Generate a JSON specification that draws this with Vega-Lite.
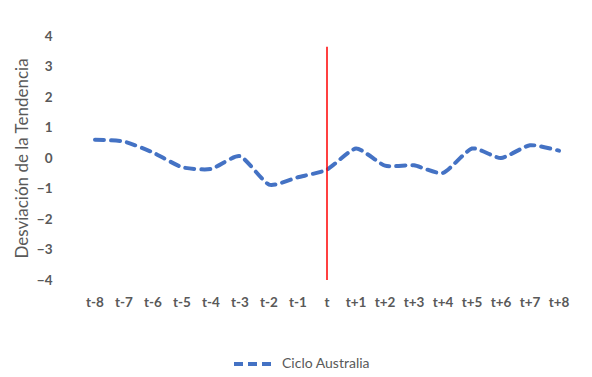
{
  "$schema": "https://vega.github.io/schema/vega-lite/v6.json",
  "width": 522,
  "height": 244,
  "autosize": {"type": "none"},
  "padding": {"left": 66, "top": 36, "right": 4, "bottom": 97},
  "background": "white",
  "config": {
    "view": {"stroke": null},
    "font": "Lato",
    "axis": {"labelFont": "Lato", "titleFont": "Lato", "labelOverlap": false},
    "axisY": {"labelOverlap": false, "labelFlush": false, "labelBound": false, "grid": false, "domain": false, "ticks": false, "labelFontSize": 13.5, "labelFontWeight": "bold", "labelColor": "#595959", "labelPadding": 14, "titleFontSize": 17, "titleFontWeight": "normal", "titleColor": "#595959", "titlePadding": 5},
    "axisX": {"domain": false, "ticks": false, "labelAngle": 0, "labelFontSize": 13.5, "labelFontWeight": "bold", "labelColor": "#595959", "labelPadding": 15}
  },
  "datasets": {
    "serie": [
      {"periodo": "t-8", "valor": 0.6, "serie": "Ciclo Australia"},
      {"periodo": "t-7", "valor": 0.54, "serie": "Ciclo Australia"},
      {"periodo": "t-6", "valor": 0.18, "serie": "Ciclo Australia"},
      {"periodo": "t-5", "valor": -0.3, "serie": "Ciclo Australia"},
      {"periodo": "t-4", "valor": -0.36, "serie": "Ciclo Australia"},
      {"periodo": "t-3", "valor": 0.06, "serie": "Ciclo Australia"},
      {"periodo": "t-2", "valor": -0.87, "serie": "Ciclo Australia"},
      {"periodo": "t-1", "valor": -0.63, "serie": "Ciclo Australia"},
      {"periodo": "t", "valor": -0.38, "serie": "Ciclo Australia"},
      {"periodo": "t+1", "valor": 0.31, "serie": "Ciclo Australia"},
      {"periodo": "t+2", "valor": -0.25, "serie": "Ciclo Australia"},
      {"periodo": "t+3", "valor": -0.24, "serie": "Ciclo Australia"},
      {"periodo": "t+4", "valor": -0.49, "serie": "Ciclo Australia"},
      {"periodo": "t+5", "valor": 0.31, "serie": "Ciclo Australia"},
      {"periodo": "t+6", "valor": 0.0, "serie": "Ciclo Australia"},
      {"periodo": "t+7", "valor": 0.42, "serie": "Ciclo Australia"},
      {"periodo": "t+8", "valor": 0.24, "serie": "Ciclo Australia"}
    ],
    "marca": [
      {"periodo": "t", "valor": -4, "hasta": 3.65}
    ]
  },
  "layer": [
    {
      "data": {"name": "serie"},
      "mark": {"type": "line", "interpolate": "cardinal", "tension": 0.4, "strokeWidth": 4, "strokeDash": [9, 7], "strokeCap": "round"},
      "encoding": {
        "x": {
          "field": "periodo", "type": "ordinal", "sort": null,
          "scale": {"paddingInner": 0, "paddingOuter": 0.5},
          "axis": {"title": null}
        },
        "y": {
          "field": "valor", "type": "quantitative",
          "scale": {"domain": [-4, 4], "nice": false},
          "axis": {"title": "Desviación de la Tendencia", "tickCount": 8, "tickMinStep": 1, "labelOverlap": false}
        },
        "color": {
          "field": "serie", "type": "nominal",
          "scale": {"range": ["#4472C4"]},
          "legend": {"title": null, "orient": "none", "legendX": 166, "legendY": 306, "symbolType": "stroke", "symbolStrokeWidth": 4, "symbolDash": [9, 5], "symbolSize": 1600, "labelFontSize": 14, "labelColor": "#595959", "labelFont": "Lato", "labelOffset": 6}
        }
      }
    },
    {
      "data": {"name": "marca"},
      "mark": {"type": "rule", "color": "#FF0000", "strokeWidth": 1.5},
      "encoding": {
        "x": {"field": "periodo", "type": "ordinal", "sort": null},
        "y": {"field": "valor", "type": "quantitative"},
        "y2": {"field": "hasta"}
      }
    }
  ]
}
